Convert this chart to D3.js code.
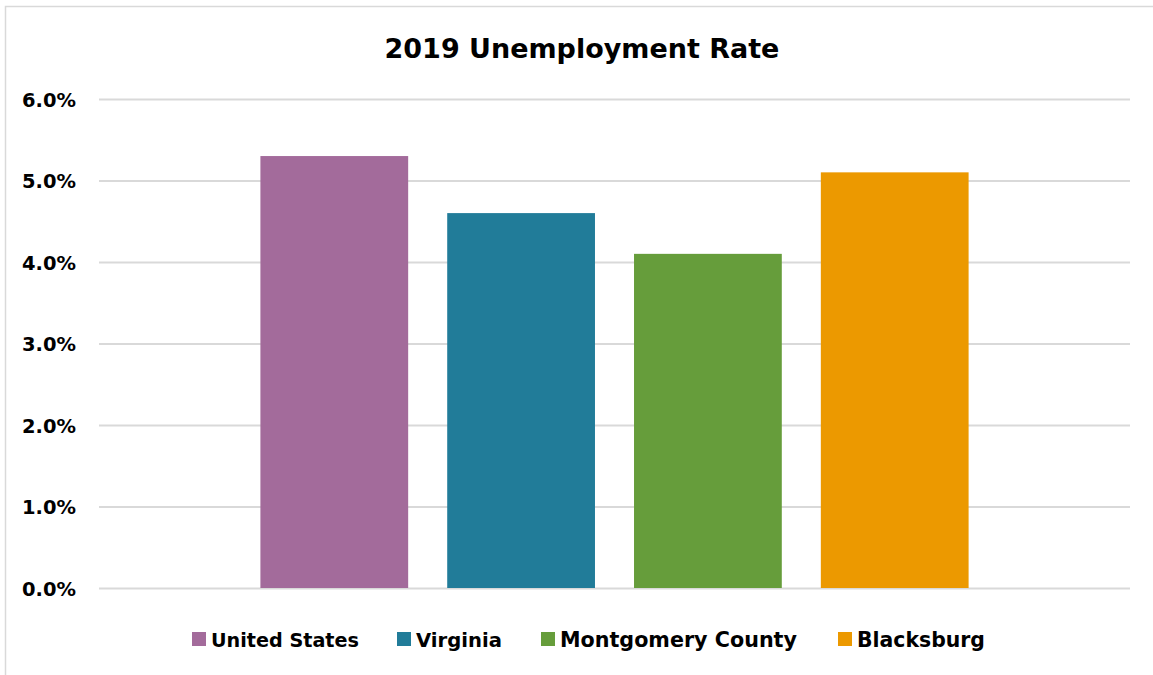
<!DOCTYPE html>
<html>
<head>
<meta charset="utf-8">
<script src="https://cdn.jsdelivr.net/npm/d3@7"></script>
<style>
  html, body { margin: 0; padding: 0; background: #fff; }
  svg { display: block; font-family: "DejaVu Sans", sans-serif; font-weight: 700; }
</style>
</head>
<body>
<svg id="chart" width="1153" height="675"></svg>
<script>
// Unemployment rate by area, 2019 (percent)
const categories = ["United States", "Virginia", "Montgomery County", "Blacksburg"];
const rates = [5.3, 4.6, 4.1, 5.1];
const colors = ["#a36b9b", "#217c99", "#669d3b", "#ec9900"];
const yTicks = [0, 1, 2, 3, 4, 5, 6];
const title = "2019 Unemployment Rate";

const svg = d3.select("#chart");
const W = 1153, H = 675;
const plot = { left: 99, right: 1130, top: 99, bottom: 588 };

// Shrink/grow a text's font size so it spans the given width
function fitWidth(sel, width) {
  const node = sel.node();
  const fs = parseFloat(sel.attr("font-size"));
  const w = node.getComputedTextLength();
  sel.attr("font-size", (fs * width / w).toFixed(2));
}

// Outer frame
svg.append("rect")
  .attr("x", 5.5).attr("y", 6.5)
  .attr("width", W + 10).attr("height", H + 10)
  .attr("fill", "#fff")
  .attr("stroke", "#d9d9d9").attr("stroke-width", 1.5);

const x = d3.scaleBand()
  .domain(categories)
  .range([plot.left, plot.right])
  .paddingInner(0.209)
  .paddingOuter(0.864);

const y = d3.scaleLinear()
  .domain([0, 6])
  .range([plot.bottom, plot.top]);

// Gridlines + tick labels
const yAxis = d3.axisLeft(y)
  .tickValues(yTicks)
  .tickSize(-(plot.right - plot.left))
  .tickPadding(23)
  .tickFormat(d => d.toFixed(1) + "%");

const gy = svg.append("g")
  .attr("transform", `translate(${plot.left},0)`)
  .call(yAxis);
gy.select(".domain").remove();
gy.selectAll(".tick line").attr("stroke", "#d9d9d9").attr("stroke-width", 2);
gy.selectAll(".tick text")
  .attr("fill", "#000")
  .attr("font-size", 19)
  .attr("font-weight", 700)
  .attr("font-family", "DejaVu Sans, sans-serif")
  .attr("dy", "0.36em");
gy.selectAll(".tick text").each(function() { fitWidth(d3.select(this), 54); });

// Bars
svg.append("g").selectAll("rect")
  .data(categories)
  .join("rect")
  .attr("x", d => x(d))
  .attr("width", x.bandwidth())
  .attr("y", (d, i) => y(rates[i]))
  .attr("height", (d, i) => y(0) - y(rates[i]))
  .attr("fill", (d, i) => colors[i]);

// Title
const t = svg.append("text")
  .attr("x", 582).attr("y", 58)
  .attr("text-anchor", "middle")
  .attr("font-size", 26)
  .attr("fill", "#000")
  .text(title);
fitWidth(t, 395);

// Legend
const legendX = [192, 397, 541, 838];
const legendW = [148, 86, 237, 128];
const lg = svg.append("g");
categories.forEach((c, i) => {
  const g = lg.append("g").attr("transform", `translate(${legendX[i]},632)`);
  g.append("rect").attr("width", 14).attr("height", 14).attr("fill", colors[i]);
  const lt = g.append("text")
    .attr("x", 19).attr("y", 14.5)
    .attr("font-size", 19)
    .attr("fill", "#000")
    .text(c);
  fitWidth(lt, legendW[i]);
});
</script>
</body>
</html>
